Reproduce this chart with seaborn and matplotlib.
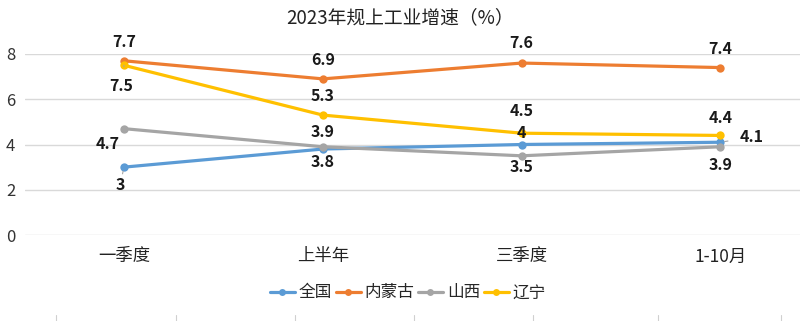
import matplotlib
matplotlib.use("Agg")
import matplotlib.pyplot as plt
from matplotlib.lines import Line2D
import seaborn as sns
import pandas as pd

categories = ["一季度", "上半年", "三季度", "1-10月"]
series_names = ["全国", "内蒙古", "山西", "辽宁"]
quanguo = [3, 3.8, 4, 4.1]
neimenggu = [7.7, 6.9, 7.6, 7.4]
shanxi = [4.7, 3.9, 3.5, 3.9]
liaoning = [7.5, 5.3, 4.5, 4.4]
title = "2023年规上工业增速（%）"
y_ticks = [0, 2, 4, 6, 8]

colors = {"全国": "#5B9BD5", "内蒙古": "#ED7D31", "山西": "#A5A5A5", "辽宁": "#FFC000"}
values = {"全国": quanguo, "内蒙古": neimenggu, "山西": shanxi, "辽宁": liaoning}

rows = []
for name in series_names:
    for c, v in zip(categories, values[name]):
        rows.append({"cat": c, "val": v, "series": name})
df = pd.DataFrame(rows)

sns.set_theme(style="white")
plt.rcParams["font.family"] = ["Noto Sans CJK SC", "DejaVu Sans"]

fig = plt.figure(figsize=(8, 3.21), dpi=100)
W, H = 800, 321
ax = fig.add_axes([25 / W, 1 - 235 / H, (800 - 25) / W, (235 - 54) / H])

for name in series_names:
    sub = df[df["series"] == name]
    sns.lineplot(data=sub, x="cat", y="val", color=colors[name], linewidth=2.3,
                 marker="o", markersize=6, markeredgewidth=0, ax=ax,
                 legend=False, sort=False)

ax.set_xlim(-0.498, 3.40)
ax.set_ylim(0, 8)
ax.set_yticks(y_ticks)
ax.set_xlabel("")
ax.set_ylabel("")
ax.grid(axis="y", color="#D9D9D9", linewidth=1)
ax.grid(axis="x", visible=False)
for s in ax.spines.values():
    s.set_visible(False)
ax.tick_params(axis="y", length=0, pad=7, labelsize=12, labelcolor="#333333")
ax.tick_params(axis="x", length=0, pad=9, labelsize=12.5, labelcolor="#222222")

offsets = {
    ("内蒙古", 0): (0, 19, "center"),
    ("内蒙古", 1): (0, 19, "center"),
    ("内蒙古", 2): (0, 20, "center"),
    ("内蒙古", 3): (0, 19, "center"),
    ("辽宁", 0): (-3, -21, "center"),
    ("辽宁", 1): (0, 19, "center"),
    ("辽宁", 2): (0, 22, "center"),
    ("辽宁", 3): (0, 17, "center"),
    ("山西", 0): (-16, -15, "center"),
    ("山西", 1): (0, 15, "center"),
    ("山西", 2): (0, -11, "center"),
    ("山西", 3): (0, -18, "center"),
    ("全国", 0): (-4, -18, "center"),
    ("全国", 1): (0, -13, "center"),
    ("全国", 2): (0, 11, "center"),
    ("全国", 3): (31, 5, "center"),
}
leaders = {("辽宁", 0), ("全国", 0), ("全国", 3)}
for name in series_names:
    for i, v in enumerate(values[name]):
        dx, dy, ha = offsets[(name, i)]
        txt = ("%g" % v)
        kw = {}
        if (name, i) in leaders:
            kw["arrowprops"] = dict(arrowstyle="-", color="#A6A6A6", lw=0.8,
                                    shrinkA=6, shrinkB=3)
        ax.annotate(txt, xy=(i, v), xytext=(dx, dy), textcoords="offset pixels",
                    ha=ha, va="center", fontsize=11.5, fontweight="bold",
                    color="#1a1a1a", annotation_clip=False, **kw)

fig.text(0.5, 1 - 18 / H, title, ha="center", va="center", fontsize=13.5, color="#222222")

handles = [Line2D([0], [0], color=colors[n], lw=2.3, marker="o", markersize=5,
                  markeredgewidth=0) for n in series_names]
fig.legend(handles, series_names, loc="center", bbox_to_anchor=(0.51, 1 - 293 / H),
           ncol=4, frameon=False, fontsize=12, handlelength=1.5, handletextpad=0.25,
           columnspacing=0.2)

for xp in [56, 176, 295, 414, 533, 658, 781]:
    fig.add_artist(Line2D([xp / W, xp / W], [0, 6 / H], color="#D0D0D0", lw=0.8,
                          transform=fig.transFigure))

fig.savefig("out.png", dpi=100)
